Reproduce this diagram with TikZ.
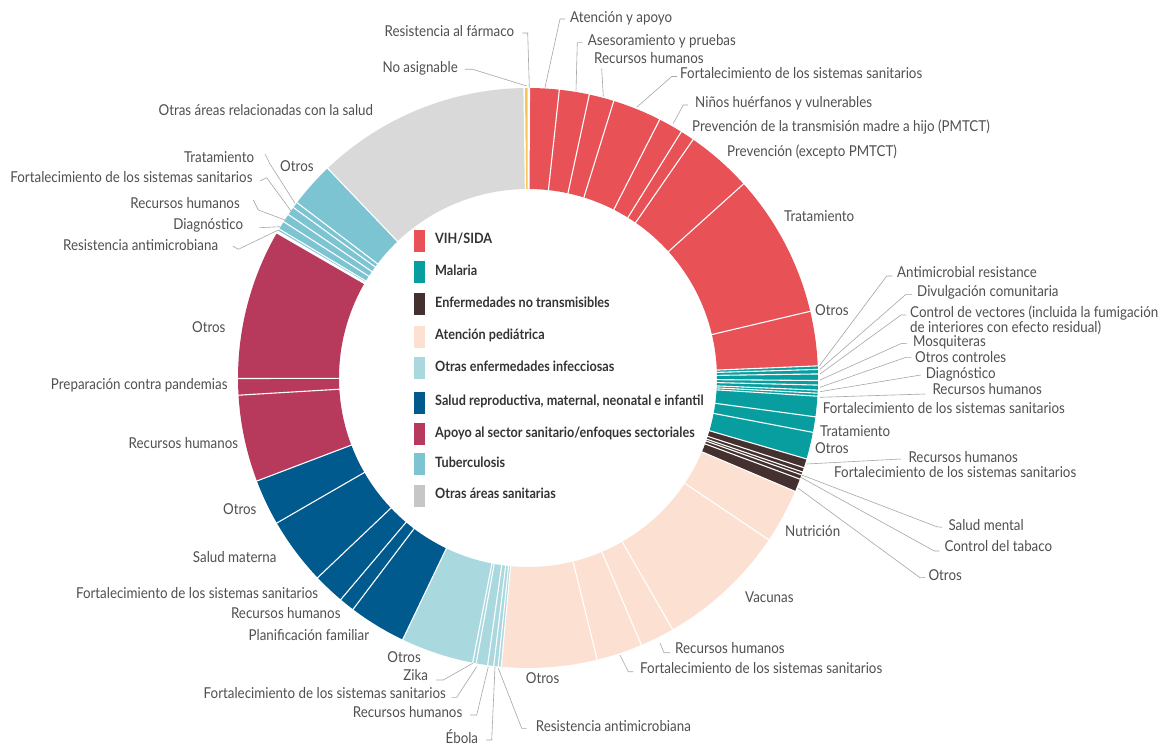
\documentclass[tikz,border=0pt]{standalone}
\usepackage{fontspec}
\setmainfont{Lato}[FakeStretch=0.89]
\definecolor{hiv}{HTML}{E85155}
\definecolor{mal}{HTML}{089EA0}
\definecolor{ncd}{HTML}{43302F}
\definecolor{ped}{HTML}{FCE1D2}
\definecolor{oin}{HTML}{A9D8DF}
\definecolor{rmn}{HTML}{005A8E}
\definecolor{hss}{HTML}{B73A5D}
\definecolor{tbc}{HTML}{7DC4D3}
\definecolor{oth}{HTML}{D9D9D9}
\definecolor{othleg}{HTML}{C6C6C6}
\definecolor{yel}{HTML}{F5C75A}
\definecolor{txt}{HTML}{505050}
\definecolor{legc}{HTML}{333333}
\definecolor{ldr}{HTML}{A6A6A6}
\newcommand{\seg}[3]{%
 \fill[#3] ({90-(#1)}:189) -- ({90-(#1)}:290) arc[start angle={90-(#1)}, end angle={90-(#2)}, radius=290] -- ({90-(#2)}:189) arc[start angle={90-(#2)}, end angle={90-(#1)}, radius=189] -- cycle;}
\newcommand{\sepl}[1]{\draw[white, line width=1.1pt] ({90-(#1)}:186) -- ({90-(#1)}:293);}
\tikzset{
 lbl/.style={font=\fontsize{15}{15}\selectfont, text=txt, inner sep=0pt, text height=1.5ex, text depth=0.25ex},
 lw/.style={lbl, anchor=west},
 le/.style={lbl, anchor=east},
 leader/.style={draw=ldr, line width=0.6pt},
 legtxt/.style={font=\fontsize{14.2}{15}\selectfont\bfseries, text=legc, anchor=west, inner sep=0pt, text height=1.5ex, text depth=0.25ex},
 sw/.style={minimum width=11pt, minimum height=22pt, inner sep=0pt, anchor=center}
}
\begin{document}
\begin{tikzpicture}[x=1pt,y=-1pt]
\useasboundingbox (0,0) rectangle (1161,746);
\fill[white] (0,0) rectangle (1161,746);
\begin{scope}[shift={(528,378)}, x=1pt, y=1pt]
% VIH/SIDA
\seg{0.3}{6.2}{hiv}\seg{6.2}{12.2}{hiv}\seg{12.2}{17.2}{hiv}\seg{17.2}{27.0}{hiv}
\seg{27.0}{31.9}{hiv}\seg{31.9}{34.7}{hiv}\seg{34.7}{48.0}{hiv}\seg{48.0}{76.7}{hiv}\seg{76.7}{87.6}{hiv}
% Malaria
\seg{87.6}{88.3}{mal}\seg{88.3}{89.2}{mal}\seg{89.2}{90.5}{mal}\seg{90.5}{91.4}{mal}
\seg{91.4}{92.4}{mal}\seg{92.4}{93.0}{mal}\seg{93.0}{93.6}{mal}\seg{93.6}{97.7}{mal}
\seg{97.7}{100.8}{mal}\seg{100.8}{106.2}{mal}
% NCD
\seg{106.2}{108.0}{ncd}\seg{108.0}{108.9}{ncd}\seg{108.9}{109.5}{ncd}\seg{109.5}{110.4}{ncd}\seg{110.4}{113.0}{ncd}
% Pediatric
\seg{113.0}{123.9}{ped}\seg{123.9}{150.1}{ped}\seg{150.1}{157.0}{ped}\seg{157.0}{166.2}{ped}\seg{166.2}{185.3}{ped}
% Other infectious
\seg{185.3}{185.9}{oin}\seg{185.9}{186.8}{oin}\seg{186.8}{188.0}{oin}\seg{188.0}{190.3}{oin}\seg{190.3}{191.0}{oin}\seg{191.0}{205.6}{oin}
% RMNCH
\seg{205.6}{217.1}{rmn}\seg{217.1}{220.2}{rmn}\seg{220.2}{226.5}{rmn}\seg{226.5}{240.0}{rmn}\seg{240.0}{249.2}{rmn}
% Health sector
\seg{249.2}{266.6}{hss}\seg{266.6}{269.9}{hss}\seg{269.9}{300.0}{hss}
% TB
\seg{300.4}{300.9}{tbc}\seg{300.9}{302.6}{tbc}\seg{302.6}{304.3}{tbc}\seg{304.3}{306.0}{tbc}\seg{306.0}{307.2}{tbc}\seg{307.2}{316.3}{tbc}
% Other
\seg{316.3}{359.2}{oth}
\seg{359.4}{359.9}{yel}
\foreach \a in {0.3,6.2,12.2,17.2,27.0,31.9,34.7,48.0,76.7,87.6,88.3,89.2,90.5,91.4,92.4,93.0,93.6,97.7,100.8,106.2,108.0,108.9,109.5,110.4,113.0,123.9,150.1,157.0,166.2,185.3,185.9,186.8,188.0,190.3,191.0,205.6,217.1,220.2,226.5,240.0,249.2,266.6,269.9,300.0,300.4,300.9,302.6,304.3,306.0,307.2,316.3,359.2}{\sepl{\a}}
\end{scope}

% ---- legend
\node[sw, fill=hiv] (s1) at (419.5,240.7) {}; \node[legtxt] (g1) at (435,240.7) {VIH/SIDA};
\node[sw, fill=mal] (s2) at (419.5,272.3) {}; \node[legtxt] (g2) at (435,272.3) {Malaria};
\node[sw, fill=ncd] (s3) at (419.5,304.3) {}; \node[legtxt] (g3) at (435,304.3) {Enfermedades no transmisibles};
\node[sw, fill=ped] (s4) at (419.5,336.7) {}; \node[legtxt] (g4) at (435,336.7) {Atención pediátrica};
\node[sw, fill=oin] (s5) at (419.5,368.3) {}; \node[legtxt] (g5) at (435,368.3) {Otras enfermedades infecciosas};
\node[sw, fill=rmn] (s6) at (419.5,402.7) {}; \node[legtxt] (g6) at (435,402.7) {Salud reproductiva, maternal, neonatal e infantil};
\node[sw, fill=hss] (s7) at (419.5,434.0) {}; \node[legtxt] (g7) at (435,434.0) {Apoyo al sector sanitario/enfoques sectoriales};
\node[sw, fill=tbc] (s8) at (419.5,464.0) {}; \node[legtxt] (g8) at (435,464.0) {Tuberculosis};
\node[sw, fill=othleg] (s9) at (419.5,495.7) {}; \node[legtxt] (g9) at (435,495.7) {Otras áreas sanitarias};

% ---- top labels
\node[le] (a1) at (514.3,33) {Resistencia al fármaco};
\coordinate (p1) at (529.3,87.5);
\draw[leader] (p1) -- (527.7,33) -- ([xshift=8pt]a1.east);
\node[le] (a2) at (458,69.3) {No asignable};
\coordinate (p2) at (526.7,86);
\draw[leader] (p2) -- (472.7,69.3) -- ([xshift=7pt]a2.east);
\node[lw] (a3) at (570,19) {Atención y apoyo};
\coordinate (p3) at (545,87.5);
\draw[leader] (p3) -- (560,19) -- ([xshift=-5pt]a3.west);
\node[lw] (a4) at (587.7,42.7) {Asesoramiento y pruebas};
\coordinate (p4) at (576,90.7);
\draw[leader] (p4) -- (577.3,42.7) -- ([xshift=-5pt]a4.west);
\node[lw] (a5) at (594,60) {Recursos humanos};
\coordinate (p5) at (603.3,96.5);
\coordinate (q5) at (601.7,68.5);
\draw[leader] (p5) -- (q5);
\node[lw] (a6) at (680,75) {Fortalecimiento de los sistemas sanitarios};
\coordinate (p6) at (636.7,107.3);
\draw[leader] (p6) -- (671.7,76.5) -- ([xshift=-3pt,yshift=-1.5pt]a6.west);
\node[lw] (a7) at (695,104) {Niños huérfanos y vulnerables};
\coordinate (p7) at (673.3,123.3);
\draw[leader] (p7) -- (683.3,105) -- ([xshift=-7pt,yshift=-1pt]a7.west);
\node[lw] (a8) at (692,128) {Prevención de la transmisión madre a hijo (PMTCT)};
\node[lw] (a9) at (727,153) {Prevención (excepto PMTCT)};
\node[lw] (a10) at (784,218) {Tratamiento};
\node[lw] (a11) at (815,312) {Otros};

% ---- malaria labels
\node[lw] (m1) at (897,274) {Antimicrobial resistance};
\coordinate (pm1) at (819.3,366);
\draw[leader] (pm1) -- (886.7,276) -- ([xshift=-4.5pt,yshift=-2pt]m1.west);
\node[lw] (m2) at (917,293) {Divulgación comunitaria};
\coordinate (pm2) at (820,369.3);
\draw[leader] (pm2) -- (906,294.3) -- ([xshift=-5pt,yshift=-1.3pt]m2.west);
\node[lbl, anchor=west, align=left, text height=, text depth=, font=\fontsize{15}{14}\selectfont] (m3) at (910,320.5) {Control de vectores (incluida la fumigación\\de interiores con efecto residual)};
\coordinate (pm3) at (820,374);
\draw[leader] (pm3) -- (901,315) -- (906,315);
\node[lw] (m4) at (913,343.8) {Mosquiteras};
\coordinate (pm4) at (820,380);
\draw[leader] (pm4) -- (901.7,343.3) -- ([xshift=-6pt]m4.west);
\node[lw] (m5) at (915,359.3) {Otros controles};
\coordinate (pm5) at (820,387.3);
\draw[leader] (pm5) -- (906,357.3) -- ([xshift=-4pt,yshift=2pt]m5.west);
\node[lw] (m6) at (925.7,375.7) {Diagnóstico};
\coordinate (pm6) at (820,391.7);
\draw[leader] (pm6) -- ([xshift=-5pt,yshift=0.7pt]m6.west);
\node[lw] (m7) at (932.3,391.7) {Recursos humanos};
\coordinate (pm7) at (820,397.3);
\draw[leader] (pm7) -- ([xshift=-7pt,yshift=-2.3pt]m7.west);
\node[lw] (m8) at (822.7,410.7) {Fortalecimiento de los sistemas sanitarios};
\node[lw] (m9) at (820,433) {Tratamiento};
\node[lw] (m10) at (815,450) {Otros};

% ---- NCD labels
\node[lw] (n1) at (908.3,459) {Recursos humanos};
\coordinate (pn1) at (806.7,464);
\draw[leader] (pn1) -- ([xshift=-7.5pt]n1.west);
\node[lw] (n2) at (834,474.3) {Fortalecimiento de los sistemas sanitarios};
\node[lw] (n3) at (948.3,527.3) {Salud mental};
\coordinate (pn3) at (801.7,475);
\draw[leader] (pn3) -- (936.7,526.7) -- ([xshift=-6.5pt]n3.west);
\node[lw] (n4) at (944.3,548.3) {Control del tabaco};
\coordinate (pn4) at (800.7,477.3);
\draw[leader] (pn4) -- (934.3,551) -- ([xshift=-5pt,yshift=-2.7pt]n4.west);
\node[lw] (n5) at (928.3,577.5) {Otros};
\coordinate (pn5) at (798.3,488.3);
\draw[leader] (pn5) -- (920,577.7) -- ([xshift=-3.3pt]n5.west);

% ---- pediatric labels
\node[lw] (c1) at (785,533) {Nutrición};
\node[lw] (c2) at (745,599) {Vacunas};
\node[lw] (c3) at (675,650.7) {Recursos humanos};
\coordinate (pc3) at (660,643.3);
\draw[leader] (pc3) -- (664,652.7) -- ([xshift=-5pt,yshift=-2pt]c3.west);
\node[lw] (c4) at (640,670) {Fortalecimiento de los sistemas sanitarios};
\coordinate (pc4) at (620,655);
\draw[leader] (pc4) -- (628.3,671.7) -- ([xshift=-6.7pt,yshift=-1.7pt]c4.west);
\node[lw] (c5) at (525.7,680) {Otros};

% ---- other infectious labels
\node[le] (o1) at (421,659.3) {Otros};
\node[le] (o2) at (428.3,677) {Zika};
\coordinate (po2) at (472.7,663.3);
\draw[leader] (po2) -- (443.3,680) -- ([xshift=8pt,yshift=-3pt]o2.east);
\node[le] (o3) at (446,695.5) {Fortalecimiento de los sistemas sanitarios};
\coordinate (po3) at (476.7,666.7);
\draw[leader] (po3) -- (456.7,697.3) -- ([xshift=5.7pt,yshift=-1.8pt]o3.east);
\node[le] (o4) at (462.5,714) {Recursos humanos};
\coordinate (po4) at (488.3,666.7);
\draw[leader] (po4) -- (476.7,715) -- ([xshift=7.5pt,yshift=-1pt]o4.east);
\node[le] (o5) at (478.3,740) {Ébola};
\coordinate (po5) at (495,666.7);
\draw[leader] (po5) -- (491.7,740) -- ([xshift=7.7pt]o5.east);
\node[lw] (o6) at (535.7,728.3) {Resistencia antimicrobiana};
\coordinate (po6) at (498.3,668.3);
\draw[leader] (po6) -- (521.7,728.3) -- ([xshift=-9pt]o6.west);

% ---- RMNCH labels
\node[le] (r1) at (369.3,637.3) {Planificación familiar};
\node[le] (r2) at (340.7,615.7) {Recursos humanos};
\node[le] (r3) at (318.3,595.7) {Fortalecimiento de los sistemas sanitarios};
\node[le] (r4) at (276.7,559.3) {Salud materna};
\node[le] (r5) at (256.7,511.7) {Otros};

% ---- health sector labels
\node[le] (h1) at (238.3,445) {Recursos humanos};
\node[le] (h2) at (227.7,386.7) {Preparación contra pandemias};
\node[le] (h3) at (225.7,329.3) {Otros};

% ---- TB labels
\node[lw] (b1) at (280,168.3) {Otros};
\node[le] (b2) at (254.3,159) {Tratamiento};
\coordinate (pb2) at (295,203.3);
\draw[leader] (pb2) -- (270,164) -- ([xshift=10.7pt,yshift=5pt]b2.east);
\node[le] (b3) at (252.7,179.3) {Fortalecimiento de los sistemas sanitarios};
\coordinate (pb3) at (291,211);
\draw[leader] (pb3) -- (266.7,177.7) -- ([xshift=7.3pt,yshift=-1.6pt]b3.east);
\node[le] (b4) at (240,205) {Recursos humanos};
\coordinate (pb4) at (285,220);
\draw[leader] (pb4) -- (258.3,210) -- ([xshift=13.3pt,yshift=5pt]b4.east);
\node[le] (b5) at (243.3,226.7) {Diagnóstico};
\coordinate (pb5) at (280,226.7);
\draw[leader] (pb5) -- ([xshift=16pt,yshift=-1pt]b5.east);
\node[le] (b6) at (218.3,247.7) {Resistencia antimicrobiana};
\coordinate (pb6) at (278.3,230);
\draw[leader] (pb6) -- (238.3,249.3) -- ([xshift=14.4pt,yshift=1.6pt]b6.east);

% ---- other areas
\node[le] (x1) at (373.3,112.3) {Otras áreas relacionadas con la salud};
\end{tikzpicture}
\end{document}
